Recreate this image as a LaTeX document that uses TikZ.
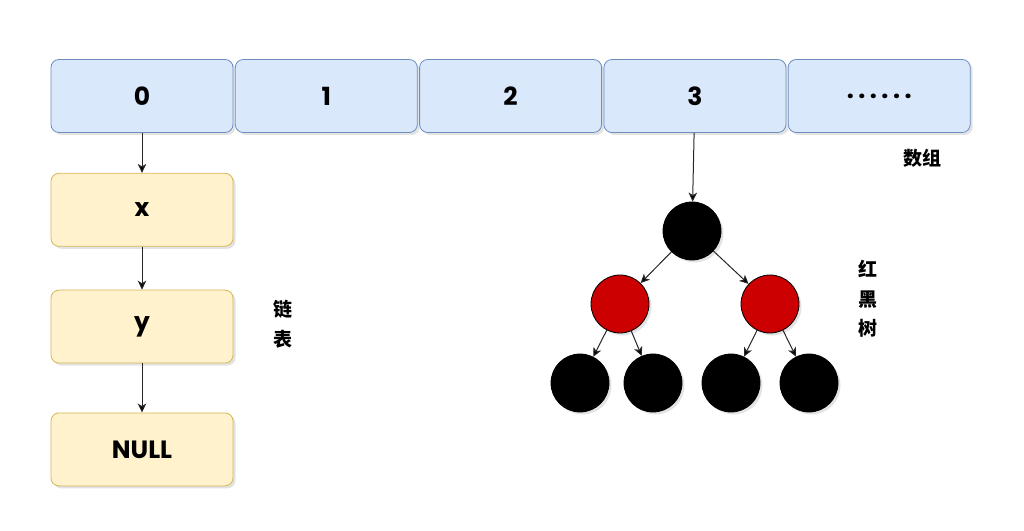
\documentclass[tikz,border=0pt]{standalone}
\usepackage{fontspec}
\setmainfont{Poppins}
\newfontfamily\cjk{Noto Sans CJK SC}
\usetikzlibrary{arrows.meta,positioning,shadows}
\definecolor{cellfill}{HTML}{DAE8FC}
\definecolor{celldraw}{HTML}{6C8EBF}
\definecolor{listfill}{HTML}{FFF2CC}
\definecolor{listdraw}{HTML}{D6B656}
\definecolor{redfill}{HTML}{CC0000}
\newcommand{\dotgap}{\kern4.5pt}
\tikzset{
    cell/.style =   {rectangle,
                    rounded corners=8pt,
                    fill=cellfill,
                    draw=celldraw,
                    text=black,
                    thick,
                    minimum width=182pt,
                    minimum height=73pt,
                    font=\fontsize{25}{30}\selectfont\bfseries,
                    drop shadow={shadow xshift=2.5pt,shadow yshift=-2.5pt,fill=black!22}},
    item/.style =   {cell,
                    fill=listfill,
                    draw=listdraw},
    blk/.style =    {circle,
                    fill=black,
                    draw=black,
                    thick,
                    minimum size=58pt,
                    inner sep=0pt,
                    drop shadow={shadow xshift=2.5pt,shadow yshift=-2.5pt,fill=black!22}},
    rd/.style =     {blk,
                    fill=redfill},
    lbl/.style =    {align=center,
                    font=\cjk\fontsize{19}{29.5}\selectfont\bfseries},
    link/.style =   {line width=1pt,draw=black!85,->},
    >={Stealth[length=9pt,width=8.5pt,inset=2.5pt]},
    shorten >= 0pt,
    shorten <= 0pt}
\begin{document}
\begin{tikzpicture}[x=1pt,y=1pt]
    \useasboundingbox (0,0) rectangle (1024,530);
    % array
    \node[cell]     (a0) at (142,434)         {0};
    \node[cell]     (a1) [right=1.5pt of a0]  {1};
    \node[cell]     (a2) [right=1.5pt of a1]  {2};
    \node[cell]     (a3) [right=1.5pt of a2]  {3};
    \node[cell]     (a4) [right=1.5pt of a3]  {.\dotgap.\dotgap.\dotgap.\dotgap.\dotgap.};
    \node[lbl]      (arr) at (922,372)        {数组};
    % linked list
    \node[item]     (x)    [below=40pt of a0]   {x};
    \node[item]     (y)    [below=43pt of x]    {y};
    \node[item]     (null) [below=49pt of y]    {NULL};
    \node[lbl]      (list) at (283,206)         {链\\表};
    % red-black tree
    \node[blk]      (r)   at (692,299)  {};
    \node[rd]       (rl)  at (620,226)  {};
    \node[rd]       (rr)  at (770,226)  {};
    \node[blk]      (ll)  at (580,147)  {};
    \node[blk]      (lr)  at (653,147)  {};
    \node[blk]      (rl2) at (731,147)  {};
    \node[blk]      (rr2) at (809,147)  {};
    \node[lbl]      (tree) at (868,231) {红\\黑\\树};
    \path [link]    (a0) edge (x)
                    (x) edge (y)
                    (y) edge (null)
                    (a3) edge (r)
                    (r) edge (rl)
                    (r) edge (rr)
                    (rl) edge (ll)
                    (rl) edge (lr)
                    (rr) edge (rl2)
                    (rr) edge (rr2);
\end{tikzpicture}
\end{document}
